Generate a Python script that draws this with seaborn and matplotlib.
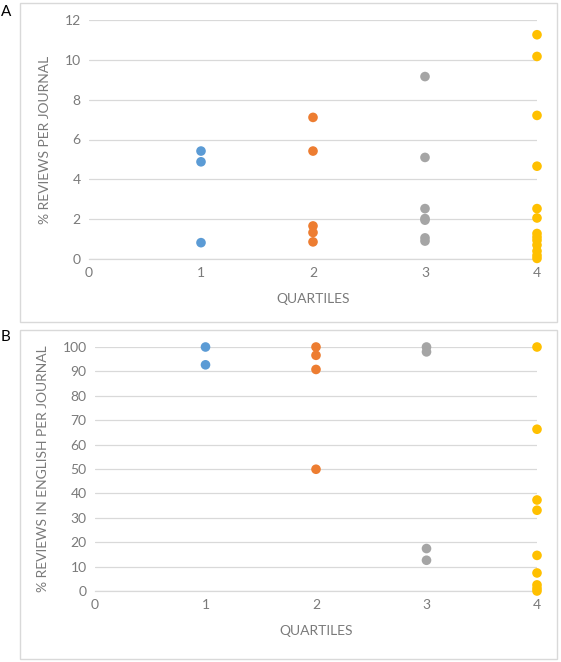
import matplotlib
matplotlib.use("Agg")
import matplotlib.pyplot as plt
import seaborn as sns
import pandas as pd
from matplotlib.patches import Rectangle

# ---- data ----
q1_reviews = [5.42, 4.88, 0.82]
q2_reviews = [7.11, 5.42, 1.66, 1.33, 0.86]
q3_reviews = [9.16, 5.10, 2.53, 2.03, 1.95, 1.06, 0.90]
q4_reviews = [11.26, 10.17, 7.21, 4.66, 2.53, 2.06, 1.28, 1.10, 0.94, 0.70, 0.40, 0.18, 0.03]

q1_english = [100, 92.7]
q2_english = [100, 96.6, 90.8, 49.9]
q3_english = [100, 98.0, 17.4, 12.6]
q4_english = [100, 66.3, 37.3, 33.1, 14.6, 7.4, 2.5, 1.1, 0.0]

quartiles = [1, 2, 3, 4]
colors = ["#5B9BD5", "#ED7D31", "#A5A5A5", "#FFC000"]

ylabel_a = "% REVIEWS PER JOURNAL"
ylabel_b = "% REVIEWS IN ENGLISH PER JOURNAL"
xlabel = "QUARTILES"


def make_df(lists):
    rows = []
    for q, vals in zip(quartiles, lists):
        for v in vals:
            rows.append({"quartile": q, "value": v})
    return pd.DataFrame(rows)


df_a = make_df([q1_reviews, q2_reviews, q3_reviews, q4_reviews])
df_b = make_df([q1_english, q2_english, q3_english, q4_english])

sns.set_theme(style="white")
plt.rcParams["font.family"] = ["Lato", "DejaVu Sans"]

W, H = 561, 662
fig = plt.figure(figsize=(W / 100, H / 100), dpi=100)

grid_c = "#D9D9D9"
text_c = "#7A7A7A"


def px_axes(left, top, right, bottom):
    return fig.add_axes([left / W, 1 - bottom / H, (right - left) / W, (bottom - top) / H])


def style(ax, ymax, ystep, ylabel):
    ax.set_xlim(0, 4)
    ax.set_ylim(0, ymax)
    ax.set_xticks(range(0, 5))
    ax.set_yticks(range(0, ymax + 1, ystep))
    ax.grid(axis="y", color=grid_c, linewidth=0.9)
    ax.grid(axis="x", visible=False)
    for s in ["top", "right", "left"]:
        ax.spines[s].set_visible(False)
    ax.spines["bottom"].set_color(grid_c)
    ax.spines["bottom"].set_linewidth(0.9)
    ax.tick_params(axis="both", length=0, colors=text_c, labelsize=10, pad=6)
    ax.set_ylabel(ylabel, color=text_c, fontsize=10, labelpad=10)
    ax.set_xlabel(xlabel, color=text_c, fontsize=10, labelpad=10)
    ax.set_axisbelow(True)
    if ax.get_legend() is not None:
        ax.get_legend().remove()


# frames
fig.patches.append(Rectangle((20 / W, 1 - 322 / H), 537 / W, 319 / H, transform=fig.transFigure,
                             fill=False, edgecolor=grid_c, linewidth=1.0))
fig.patches.append(Rectangle((20 / W, 1 - 659 / H), 537 / W, 329 / H, transform=fig.transFigure,
                             fill=False, edgecolor=grid_c, linewidth=1.0))

ax_a = px_axes(89, 20, 537, 259)
sns.scatterplot(data=df_a, x="quartile", y="value", hue="quartile", palette=colors,
                s=48, edgecolor="none", legend=False, ax=ax_a, clip_on=False, zorder=3)
style(ax_a, 12, 2, ylabel_a)

ax_b = px_axes(95, 347, 537, 591)
sns.scatterplot(data=df_b, x="quartile", y="value", hue="quartile", palette=colors,
                s=48, edgecolor="none", legend=False, ax=ax_b, clip_on=False, zorder=3)
style(ax_b, 100, 10, ylabel_b)

fig.text(1 / W, 1 - 12 / H, "A", fontsize=11, color="black", va="center", ha="left")
fig.text(1 / W, 1 - 337 / H, "B", fontsize=11, color="black", va="center", ha="left")

fig.savefig("out.png", dpi=100, facecolor="white")
